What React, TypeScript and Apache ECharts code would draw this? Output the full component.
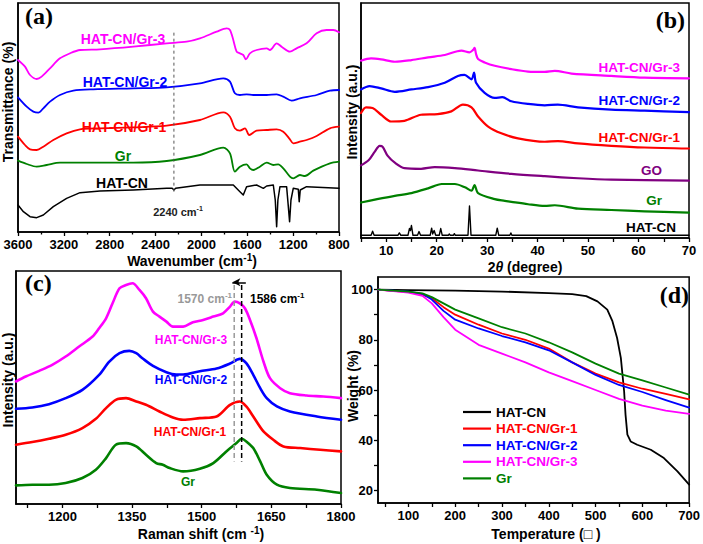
import React, { useEffect, useRef } from 'react';
import * as echarts from 'echarts';

const FONT = '"Liberation Sans", Arial, Helvetica, sans-serif';
const SERIF = '"Liberation Serif", "Times New Roman", serif';
const MAG = '#ff00ff';
const BLUE = '#0000ff';
const RED = '#ff0000';
const GREEN = '#008000';
const PURPLE = '#800080';
const BLACK = '#000000';

// ---------- (a) FTIR: [wavenumber, offset intensity] ----------
const FTIR_GR3: [number, number][] = [
  [3600, 516], [3539, 496], [3495, 471], [3437, 459], [3394, 466], [3321, 491], [3234, 521], [3147, 536],
  [3059, 546], [2885, 548], [2594, 556], [2303, 566], [2129, 571], [2013, 581], [1867, 601], [1780, 611],
  [1751, 606], [1722, 576], [1693, 541], [1664, 536], [1635, 531], [1612, 518], [1577, 536], [1519, 546],
  [1431, 551], [1402, 546], [1344, 566], [1301, 556], [1228, 541], [1170, 551], [1083, 566], [995, 596],
  [908, 606], [850, 606], [800, 599],
];
const FTIR_GR2: [number, number][] = [
  [3600, 404], [3524, 376], [3466, 361], [3423, 358], [3379, 371], [3321, 391], [3234, 411], [3117, 424],
  [2943, 428], [2594, 431], [2303, 434], [2013, 446], [1809, 461], [1751, 451], [1708, 416], [1664, 411],
  [1606, 413], [1548, 411], [1431, 411], [1344, 413], [1286, 406], [1213, 394], [1141, 401], [995, 411],
  [879, 424], [800, 426],
];
const FTIR_GR1: [number, number][] = [
  [3600, 286], [3539, 261], [3495, 248], [3437, 246], [3379, 256], [3292, 276], [3176, 296], [3059, 308],
  [2885, 311], [2594, 314], [2303, 319], [2013, 336], [1809, 359], [1751, 346], [1708, 311], [1664, 304],
  [1620, 311], [1583, 291], [1519, 304], [1431, 306], [1344, 308], [1286, 301], [1228, 278], [1199, 266],
  [1141, 271], [1083, 276], [995, 288], [879, 311], [800, 316],
];
const FTIR_GR: [number, number][] = [
  [3600, 214], [3524, 204], [3437, 196], [3350, 201], [3234, 208], [2885, 208], [2594, 208], [2303, 213],
  [2013, 231], [1809, 253], [1751, 236], [1708, 181], [1664, 196], [1606, 203], [1577, 191], [1548, 186],
  [1490, 196], [1431, 208], [1373, 201], [1330, 203], [1286, 191], [1228, 166], [1199, 161], [1141, 171],
  [1097, 168], [1024, 184], [879, 206], [800, 211],
];
const FTIR_HATCN: [number, number][] = [
  [3600, 81], [3553, 61], [3495, 46], [3437, 43], [3379, 51], [3292, 76], [3176, 101], [3059, 118],
  [2885, 123], [2594, 126], [2303, 131], [2255, 131], [2240, 126], [2225, 131], [2013, 141], [1722, 141],
  [1664, 121], [1635, 111], [1606, 136], [1519, 141], [1490, 136], [1460, 131], [1431, 138], [1373, 141],
  [1356, 96], [1344, 16], [1333, 96], [1315, 136], [1257, 136], [1242, 76], [1231, 31], [1219, 96],
  [1199, 131], [1155, 128], [1147, 91], [1138, 126], [1083, 136], [800, 131],
];
const FTIR_MARK: [number, number][] = [[2240, 598], [2240, 121]];

// ---------- (b) XRD: [2theta, offset intensity] ----------
const XRD_GR3: [number, number][] = [
  [5, 525], [7.0, 532], [9.0, 529], [11.7, 522], [15.0, 527], [18.3, 535], [21.6, 542], [24.9, 555],
  [26.5, 550], [27.2, 557], [27.5, 563], [27.8, 545], [28.2, 530], [29.5, 520], [31.5, 510], [34.8, 500],
  [38.1, 493], [41.4, 492], [43.4, 495], [46.7, 487], [54.6, 480], [61.2, 475], [70, 473],
];
const XRD_GR2: [number, number][] = [
  [5, 440], [6.7, 450], [9.0, 443], [11.7, 433], [15.0, 440], [18.3, 447], [21.6, 460], [24.2, 480],
  [25.5, 483], [26.9, 470], [27.4, 490], [27.8, 460], [29.5, 430], [31.5, 415], [33.0, 417], [34.8, 405],
  [38.1, 397], [41.4, 393], [44.0, 395], [48, 387], [54.6, 380], [61.2, 377], [70, 373],
];
const XRD_GR1: [number, number][] = [
  [5, 370], [6.0, 387], [7.3, 385], [9.0, 365], [11.0, 345], [13.6, 347], [16.9, 365], [20.2, 367],
  [22.9, 375], [25.2, 395], [26.9, 387], [28.2, 360], [30.2, 330], [32.8, 310], [36.1, 295], [41.4, 285],
  [44.0, 287], [48, 280], [54.6, 273], [61.2, 268], [70, 265],
];
const XRD_GO: [number, number][] = [
  [5, 215], [6.5, 230], [7.7, 255], [8.7, 273], [9.3, 270], [10.3, 243], [11.7, 223], [13.6, 207],
  [16.9, 205], [19.6, 210], [23.6, 207], [28.2, 200], [34.8, 190], [41.4, 183], [48, 177], [54.6, 173],
  [70, 170],
];
const XRD_GR: [number, number][] = [
  [5, 105], [8.2, 115], [11.7, 125], [15.0, 133], [18.3, 147], [21.0, 160], [23.6, 160], [25.6, 150],
  [26.9, 140], [27.5, 157], [28.2, 133], [31.5, 115], [33.5, 110], [34.8, 107], [38.1, 100], [41.4, 95],
  [43.4, 97], [48, 87], [54.6, 83], [61.2, 79], [70, 75],
];
const XRD_HATCN: [number, number][] = [
  [5, 8], [7.0, 8], [7.3, 20], [7.6, 8], [12.3, 8], [12.6, 15], [12.9, 8], [14.3, 8], [14.6, 28], [14.8, 22],
  [15.0, 37], [15.3, 8], [16.2, 8], [16.5, 19], [16.8, 8], [18.7, 8], [19.0, 29], [19.2, 12], [19.5, 22],
  [19.8, 8], [20.5, 8], [20.8, 28], [21.1, 8], [22.3, 8], [22.5, 12], [22.7, 8], [23.3, 8], [23.5, 13],
  [23.7, 8], [26.2, 8], [26.5, 95], [26.8, 8], [31.7, 8], [32.0, 29], [32.3, 8], [34.5, 8], [34.7, 15],
  [34.9, 8], [70, 8],
];

// ---------- (c) Raman: [shift, offset intensity] ----------
const RAMAN_GR3: [number, number][] = [
  [1100, 368], [1121, 383], [1150, 400], [1178, 418], [1207, 443], [1236, 473], [1265, 503], [1279, 528],
  [1294, 558], [1308, 603], [1323, 648], [1337, 658], [1351, 663], [1366, 643], [1380, 618], [1395, 578],
  [1409, 563], [1424, 548], [1438, 533], [1460, 533], [1481, 546], [1503, 553], [1525, 563], [1546, 573],
  [1561, 593], [1571, 608], [1582, 603], [1593, 588], [1604, 553], [1618, 498], [1633, 428], [1647, 378],
  [1669, 348], [1690, 333], [1726, 326], [1762, 323], [1800, 318],
];
const RAMAN_GR2: [number, number][] = [
  [1100, 286], [1135, 290], [1171, 300], [1207, 318], [1243, 343], [1279, 388], [1301, 428], [1323, 453],
  [1344, 460], [1359, 453], [1373, 437], [1395, 415], [1424, 396], [1445, 389], [1460, 389], [1496, 399],
  [1532, 407], [1561, 422], [1582, 436], [1596, 423], [1611, 388], [1626, 348], [1640, 318], [1662, 293],
  [1690, 278], [1748, 263], [1800, 253],
];
const RAMAN_GR1: [number, number][] = [
  [1100, 178], [1135, 186], [1171, 196], [1207, 208], [1243, 228], [1272, 256], [1294, 288], [1315, 313],
  [1337, 318], [1359, 308], [1380, 298], [1409, 278], [1438, 260], [1460, 253], [1496, 258], [1532, 263],
  [1561, 298], [1582, 308], [1596, 293], [1611, 263], [1633, 218], [1654, 193], [1676, 173], [1712, 168],
  [1755, 163], [1800, 158],
];
const RAMAN_GR: [number, number][] = [
  [1100, 56], [1135, 58], [1171, 58], [1207, 63], [1243, 78], [1272, 103], [1294, 138], [1315, 178],
  [1337, 183], [1359, 173], [1380, 148], [1402, 123], [1416, 118], [1431, 108], [1460, 98], [1496, 106],
  [1525, 123], [1553, 158], [1575, 183], [1586, 196], [1596, 188], [1611, 168], [1626, 128], [1640, 88],
  [1662, 58], [1690, 48], [1748, 43], [1800, 33],
];
const RAMAN_MARK_1570: [number, number][] = [[1570, 658], [1570, 128]];
const RAMAN_MARK_1586: [number, number][] = [[1586, 658], [1586, 128]];
const RAMAN_ARROW: [number, number][] = [[1566, 666], [1595, 666]];

// ---------- (d) TGA: [temperature, weight %] ----------
const TGA_HATCN: [number, number][] = [
  [35, 100], [100, 99.8], [200, 99.6], [300, 99.2], [400, 98.6], [450, 98.2], [480, 97.4], [504, 95.3],
  [525, 92], [536, 87.4], [546, 80.7], [554, 72.8], [561, 59.5], [564, 50.2], [568, 42.2], [575, 39.5],
  [589, 38.2], [618, 36.2], [646, 32.9], [675, 27.6], [700, 22.3],
];
const TGA_GR1: [number, number][] = [
  [35, 100], [100, 99], [130, 98], [150, 96.5], [175, 93], [200, 90], [250, 86], [300, 82.5], [350, 80],
  [400, 76.5], [450, 71], [500, 66.5], [550, 63], [600, 60.5], [650, 58.5], [700, 56.3],
];
const TGA_GR2: [number, number][] = [
  [35, 100], [100, 99.2], [130, 98.3], [150, 96], [175, 91.5], [200, 88], [250, 84.5], [300, 81.5],
  [350, 79], [400, 75.8], [450, 71], [500, 66], [550, 62], [600, 59.2], [650, 56], [700, 53],
];
const TGA_GR3: [number, number][] = [
  [35, 100], [100, 98.8], [130, 97.5], [150, 94.5], [175, 89], [200, 84], [250, 78], [300, 74.5],
  [350, 71], [400, 67], [450, 63.5], [500, 60], [550, 56.5], [600, 53.8], [650, 51.8], [700, 50.5],
];
const TGA_GR: [number, number][] = [
  [35, 100], [100, 99.2], [130, 98.5], [150, 97], [175, 94.5], [200, 92], [250, 88.5], [300, 85],
  [350, 82.5], [400, 79], [450, 75], [500, 70.5], [550, 66.5], [600, 63.8], [650, 61], [700, 58.2],
];

// tick/label values
const A_INTERVAL = 400;
const B_LABELS = [10, 20, 30, 40, 50, 60, 70];
const B_TICKS = [5, 10, 15, 20, 25, 30, 35, 40, 45, 50, 55, 60, 65, 70];
const C_LABELS = [1200, 1350, 1500, 1650, 1800];
const C_TICKS = [1125, 1200, 1275, 1350, 1425, 1500, 1575, 1650, 1725, 1800];
const D_XLABELS = [100, 200, 300, 400, 500, 600, 700];
const D_XTICKS = [50, 100, 150, 200, 250, 300, 350, 400, 450, 500, 550, 600, 650, 700];
const D_YLABELS = [20, 40, 60, 80, 100];
const D_YTICKS = [20, 30, 40, 50, 60, 70, 80, 90, 100];

const LEGEND_NAMES = ['HAT-CN', 'HAT-CN/Gr-1', 'HAT-CN/Gr-2', 'HAT-CN/Gr-3', 'Gr'];
const LEGEND_COLORS = [BLACK, RED, BLUE, MAG, GREEN];

const plain = (v: number) => String(v);
const tickLabel = { color: '#000', fontSize: 13, fontWeight: 'bold' as const, fontFamily: FONT, formatter: plain };
const axLine = { show: true, lineStyle: { color: '#000', width: 1.5 } };
const tickStyle = { color: '#000', width: 1.3 };

function line(name: string, data: [number, number][], color: string, idx: number, width = 1.8, smooth: number | boolean = 0.3) {
  return {
    type: 'line', name, data, xAxisIndex: idx, yAxisIndex: idx, symbol: 'none', symbolSize: 0, showSymbol: false,
    smooth, silent: true, emphasis: { disabled: true },
    lineStyle: { color, width, join: 'round', cap: 'round' }, itemStyle: { color },
  };
}

function txt(x: number, y: number, text: string, color: string, size: number, align = 'center', family = FONT, rotation = 0) {
  return {
    type: 'text', x, y, rotation, silent: true,
    style: {
      text, fill: color, fontSize: size, fontWeight: 'bold', fontFamily: family,
      align, verticalAlign: 'middle', textAlign: align, textVerticalAlign: 'middle',
    },
  };
}

function supTxt(x: number, y: number, pre: string, sup: string, post: string, color: string, size: number, align = 'center') {
  const lh = size + 4;
  return {
    type: 'text', x, y, silent: true,
    style: {
      text: `{m|${pre}}{s|${sup}}` + (post ? `{m|${post}}` : ''),
      align, verticalAlign: 'middle', textAlign: align, textVerticalAlign: 'middle',
      rich: {
        m: { fontSize: size, fontWeight: 'bold', fontFamily: FONT, fill: color, lineHeight: lh },
        s: { fontSize: Math.round(size * 0.68), fontWeight: 'bold', fontFamily: FONT, fill: color, verticalAlign: 'top', lineHeight: Math.round(size * 0.68) },
      },
    },
  };
}

const option: any = {
  animation: false,
  backgroundColor: '#fff',
  grid: [
    { left: 18, top: 3, width: 321, height: 229, show: true, borderColor: '#000', borderWidth: 1.5 },
    { left: 361, top: 3, width: 328, height: 235, show: true, borderColor: '#000', borderWidth: 1.5 },
    { left: 16, top: 271, width: 325, height: 233, show: true, borderColor: '#000', borderWidth: 1.5 },
    { left: 378, top: 277, width: 312, height: 226, show: true, borderColor: '#000', borderWidth: 1.5 },
  ],
  xAxis: [
    {
      gridIndex: 0, type: 'value', min: 800, max: 3600, interval: A_INTERVAL, inverse: true,
      axisLine: axLine, axisTick: { show: true, length: 4, lineStyle: tickStyle },
      minorTick: { show: true, splitNumber: 2, length: 2.5, lineStyle: tickStyle },
      axisLabel: { ...tickLabel, margin: 6 }, splitLine: { show: false }, minorSplitLine: { show: false },
    },
    {
      gridIndex: 1, type: 'value', min: 5, max: 70, interval: 5,
      axisLine: axLine, axisTick: { show: true, length: 4, lineStyle: tickStyle, customValues: B_TICKS },
      axisLabel: { ...tickLabel, margin: 6, customValues: B_LABELS }, splitLine: { show: false },
    },
    {
      gridIndex: 2, type: 'value', min: 1100, max: 1800, interval: 100,
      axisLine: axLine, axisTick: { show: true, length: 4, lineStyle: tickStyle, customValues: C_TICKS },
      axisLabel: { ...tickLabel, margin: 6, customValues: C_LABELS }, splitLine: { show: false },
    },
    {
      gridIndex: 3, type: 'value', min: 35, max: 700, interval: 5,
      axisLine: axLine, axisTick: { show: true, length: 4, lineStyle: tickStyle, customValues: D_XTICKS },
      axisLabel: { ...tickLabel, margin: 6, customValues: D_XLABELS }, splitLine: { show: false },
    },
  ],
  yAxis: [
    { gridIndex: 0, type: 'value', min: 0, max: 687, axisLine: axLine, axisTick: { show: false }, axisLabel: { show: false }, splitLine: { show: false } },
    { gridIndex: 1, type: 'value', min: 0, max: 696, axisLine: axLine, axisTick: { show: false }, axisLabel: { show: false }, splitLine: { show: false } },
    { gridIndex: 2, type: 'value', min: 0, max: 700, axisLine: axLine, axisTick: { show: false }, axisLabel: { show: false }, splitLine: { show: false } },
    {
      gridIndex: 3, type: 'value', min: 15, max: 105, interval: 5,
      axisLine: axLine, axisTick: { show: true, length: 4, lineStyle: tickStyle, customValues: D_YTICKS },
      axisLabel: { ...tickLabel, margin: 5, customValues: D_YLABELS }, splitLine: { show: false },
    },
  ],
  legend: {
    left: 463, top: 404, orient: 'vertical', padding: 0, itemGap: 0.6, itemWidth: 28, itemHeight: 2.2,
    icon: 'rect', selectedMode: false,
    textStyle: { fontSize: 13.5, fontWeight: 'bold', fontFamily: FONT, lineHeight: 16 },
    data: LEGEND_NAMES.map((n, i) => ({ name: n, itemStyle: { color: LEGEND_COLORS[i] }, textStyle: { color: LEGEND_COLORS[i] } })),
  },
  series: [
    // (a)
    line('a HAT-CN/Gr-3', FTIR_GR3, MAG, 0, 1.8),
    line('a HAT-CN/Gr-2', FTIR_GR2, BLUE, 0, 1.8),
    line('a HAT-CN/Gr-1', FTIR_GR1, RED, 0, 1.8),
    line('a Gr', FTIR_GR, GREEN, 0, 1.8),
    line('a HAT-CN', FTIR_HATCN, BLACK, 0, 1.5, false),
    { ...line('a mark', FTIR_MARK, '#555', 0, 1, false), lineStyle: { color: '#555', width: 1, type: [3, 3] } },
    // (b)
    line('b HAT-CN/Gr-3', XRD_GR3, MAG, 1, 2.2),
    line('b HAT-CN/Gr-2', XRD_GR2, BLUE, 1, 2.2),
    line('b HAT-CN/Gr-1', XRD_GR1, RED, 1, 2.2),
    line('b GO', XRD_GO, PURPLE, 1, 2.2),
    line('b Gr', XRD_GR, GREEN, 1, 2.2),
    line('b HAT-CN', XRD_HATCN, BLACK, 1, 1.4, false),
    // (c)
    line('c HAT-CN/Gr-3', RAMAN_GR3, MAG, 2, 2.6),
    line('c HAT-CN/Gr-2', RAMAN_GR2, BLUE, 2, 2.6),
    line('c HAT-CN/Gr-1', RAMAN_GR1, RED, 2, 2.6),
    line('c Gr', RAMAN_GR, GREEN, 2, 2.6),
    { ...line('c 1570', RAMAN_MARK_1570, '#999', 2, 1.5, false), lineStyle: { color: '#999', width: 1.5, type: [5, 3] } },
    {
      ...line('c 1586', RAMAN_MARK_1586, '#000', 2, 1.5, false), lineStyle: { color: '#000', width: 1.5, type: [5, 3] },
      markLine: {
        silent: true, symbol: ['arrow', 'none'], symbolSize: [6, 8], label: { show: false },
        lineStyle: { color: '#000', width: 1.5, type: 'solid' },
        data: [[{ coord: RAMAN_ARROW[0] }, { coord: RAMAN_ARROW[1] }]],
      },
    },
    // (d)
    line('HAT-CN', TGA_HATCN, BLACK, 3, 1.8, false),
    line('HAT-CN/Gr-1', TGA_GR1, RED, 3, 1.8, false),
    line('HAT-CN/Gr-2', TGA_GR2, BLUE, 3, 1.8, false),
    line('HAT-CN/Gr-3', TGA_GR3, MAG, 3, 1.8, false),
    line('Gr', TGA_GR, GREEN, 3, 1.8, false),
  ],
  graphic: [
    // panel letters
    txt(25, 16, '(a)', '#000', 24, 'left', SERIF),
    txt(685, 20, '(b)', '#000', 24, 'right', SERIF),
    txt(25, 283, '(c)', '#000', 24, 'left', SERIF),
    txt(689, 295, '(d)', '#000', 24, 'right', SERIF),
    // (a) labels
    txt(123, 39, 'HAT-CN/Gr-3', MAG, 14),
    txt(125, 82, 'HAT-CN/Gr-2', BLUE, 14),
    txt(124, 127, 'HAT-CN/Gr-1', RED, 14),
    txt(123, 156, 'Gr', GREEN, 14),
    txt(122, 183, 'HAT-CN', BLACK, 14),
    supTxt(178, 212, '2240 cm', '-1', '', '#222', 11),
    // (b) labels
    txt(680, 67, 'HAT-CN/Gr-3', MAG, 13.5, 'right'),
    txt(680, 100, 'HAT-CN/Gr-2', BLUE, 13.5, 'right'),
    txt(680, 137, 'HAT-CN/Gr-1', RED, 13.5, 'right'),
    txt(662, 170, 'GO', PURPLE, 13.5, 'right'),
    txt(662, 200, 'Gr', GREEN, 13.5, 'right'),
    txt(676, 227, 'HAT-CN', BLACK, 13.5, 'right'),
    // (c) labels
    txt(191, 340, 'HAT-CN/Gr-3', MAG, 12),
    txt(191, 380, 'HAT-CN/Gr-2', BLUE, 12),
    txt(190, 432, 'HAT-CN/Gr-1', RED, 12),
    txt(188, 482, 'Gr', GREEN, 12),
    supTxt(232, 299, '1570 cm', '-1', '', '#999', 12, 'right'),
    supTxt(250, 299, '1586 cm', '-1', '', '#000', 12, 'left'),
    // axis names
    supTxt(192, 261, 'Wavenumber (cm', '-1', ')', '#000', 14),
    {
      type: 'text', x: 525, y: 267, silent: true,
      style: {
        text: '{m|2}{i|θ}{m| (degree)}', align: 'center', verticalAlign: 'middle', textAlign: 'center', textVerticalAlign: 'middle',
        rich: {
          m: { fontSize: 14, fontWeight: 'bold', fontFamily: FONT, fill: '#000' },
          i: { fontSize: 14, fontWeight: 'bold', fontStyle: 'italic', fontFamily: FONT, fill: '#000' },
        },
      },
    },
    supTxt(201, 534, 'Raman shift (cm ', '-1', ')', '#000', 14),
    txt(546, 534, 'Temperature (□ )', '#000', 14),
    txt(8, 102, 'Transmittance (%)', '#000', 14, 'center', FONT, Math.PI / 2),
    txt(352, 112, 'Intensity (a.u.)', '#000', 14, 'center', FONT, Math.PI / 2),
    txt(8, 380, 'Intensity (a.u.)', '#000', 14, 'center', FONT, Math.PI / 2),
    txt(353, 386, 'Weight (%)', '#000', 14, 'center', FONT, Math.PI / 2),
  ],
};

export default function App() {
  const ref = useRef<HTMLDivElement>(null);
  useEffect(() => {
    const chart = echarts.init(ref.current!, null, { renderer: 'svg' });
    chart.setOption(option);
    return () => chart.dispose();
  }, []);
  return (
    <div
      ref={ref}
      style={{ position: 'fixed', left: 0, top: 0, width: 703, height: 544, background: '#fff' }}
    />
  );
}
